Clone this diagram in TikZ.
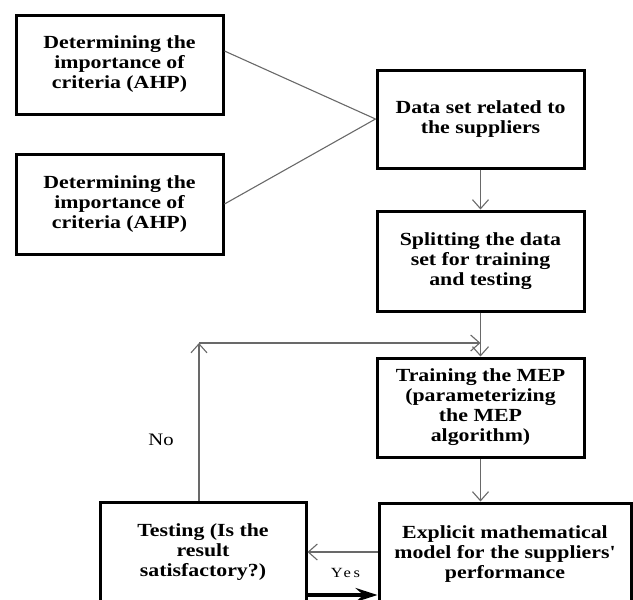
\documentclass[tikz,border=0pt]{standalone}
\usepackage{fontspec}
\setmainfont{Liberation Serif}[FakeStretch=1.18]
\usetikzlibrary{arrows.meta,calc}
\begin{document}
\begin{tikzpicture}[x=1pt,y=-1pt,
  box/.style={draw=black,line width=3pt,align=center,inner sep=0pt,
    font=\fontsize{18.5}{20}\selectfont\bfseries},
  conn/.style={draw={rgb,255:red,105;green,105;blue,105},line width=1.1pt},
  arr/.style={conn,-{Straight Barb[length=9pt,width=16pt,line width=1.1pt]}},
  lbl/.style={inner sep=0pt}]
\useasboundingbox (0,0) rectangle (633,600);
\clip (0,0) rectangle (633,600);
\node[box,minimum width=207pt,minimum height=99pt] (b1) at (119.5,64.5)
  {Determining the\\importance of\\criteria (AHP)};
\node[box,minimum width=207pt,minimum height=100pt] (b2) at (119.5,204)
  {Determining the\\importance of\\criteria (AHP)};
\node[box,minimum width=207pt,minimum height=98pt] (b3) at (480.5,119)
  {Data set related to\\the suppliers};
\node[box,minimum width=207pt,minimum height=100pt] (b4) at (480.5,261)
  {Splitting the data\\set for training\\and testing};
\node[box,minimum width=207pt,minimum height=99pt] (b5) at (480.5,407.5)
  {Training the MEP\\(parameterizing\\the MEP\\algorithm)};
\node[box,minimum width=252pt,minimum height=102pt] (b6) at (505,554)
  {Explicit mathematical\\model for the suppliers{\addfontfeature{Ligatures=TeXOff}'}\\performance};
\node[box,minimum width=206pt,minimum height=100pt] (b7) at (203,552)
  {Testing (Is the\\result\\satisfactory?)};
\coordinate (c1) at (199,343);
\coordinate (c2) at (480.5,343);
\draw[conn] ($(b1.east)+(0,-13.5)$) -- (b3.west);
\draw[conn] (b2.east) -- (b3.west);
\draw[arr] (b3.south -| c2) -- (b4.north -| c2);
\draw[arr] (b4.south -| c2) -- (b5.north -| c2);
\draw[arr] (b5.south -| c2) -- (b6.north -| c2);
\draw[arr] (b7.north -| c1) -- (c1);
\draw[arr] (c1) -- (c2);
\draw[arr] (b6.west |- b7.east) -- (b7.east);
\draw[line width=4pt,-{Stealth[length=22pt,width=14pt,inset=8pt]}] ($(b7.east)+(0,43)$) -- ($(b6.west |- b7.east)+(0,43)$);
\node[lbl,font=\fontsize{17.5}{20}\selectfont] (no) at (161,440) {No};
\node[lbl,font=\fontsize{14}{16}\selectfont\addfontfeature{LetterSpace=18}] (yes) at (345.5,573) {Yes};
\end{tikzpicture}
\end{document}
